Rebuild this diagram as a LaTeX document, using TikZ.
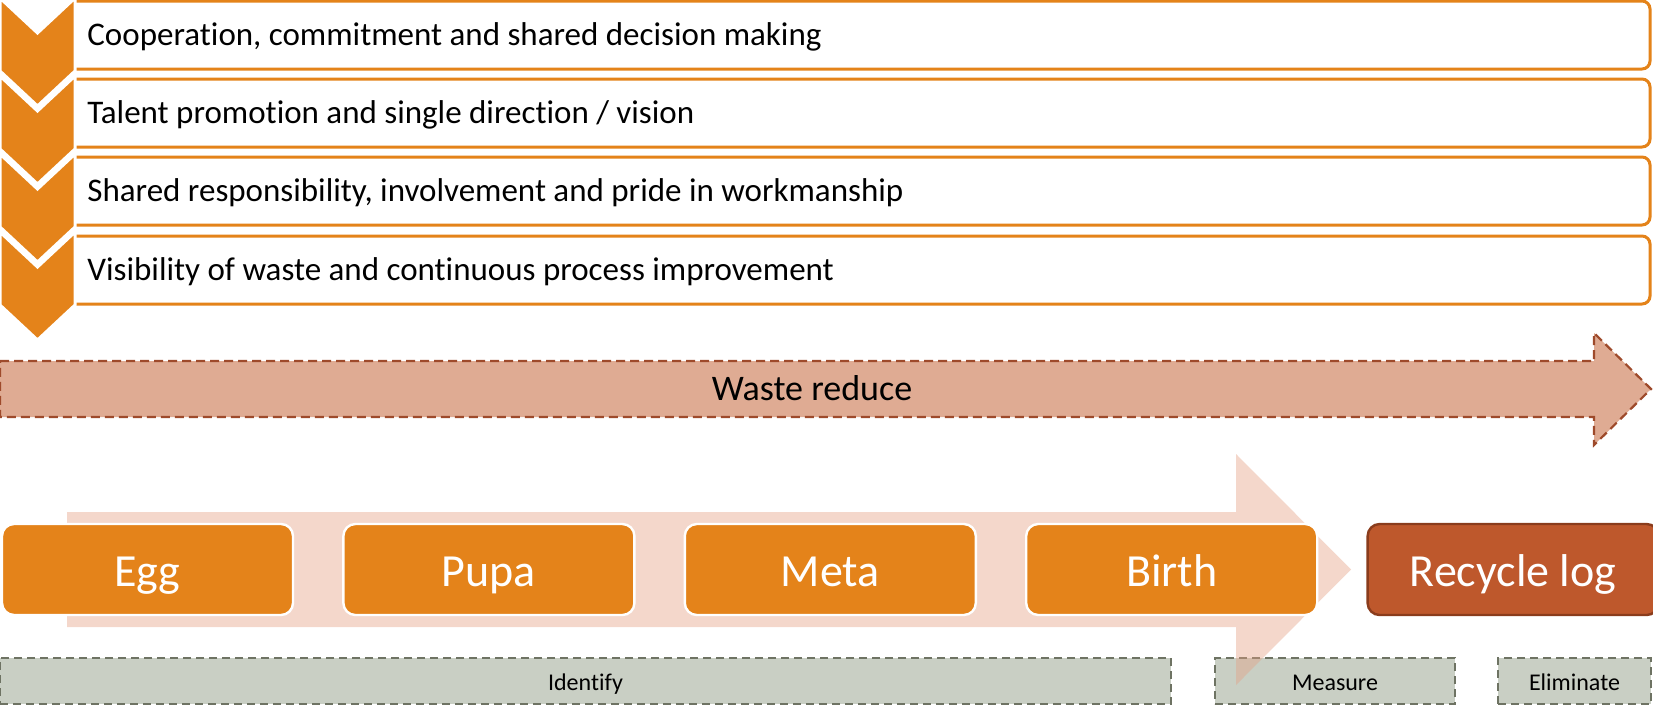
\documentclass[tikz,border=0pt]{standalone}
\usepackage{fontspec}
\setmainfont{Carlito}[RawFeature={-liga,-clig}]
\usetikzlibrary{positioning}

\definecolor{chevOrange}{HTML}{E4831A}
\definecolor{wasteFill}{HTML}{DFAB93}
\definecolor{wasteLine}{HTML}{9E4A2B}
\definecolor{flowTint}{HTML}{E4A084}
\definecolor{recycleFill}{HTML}{BE582C}
\definecolor{recycleLine}{HTML}{8A3C1C}
\definecolor{tagFill}{HTML}{C9CFC4}
\definecolor{tagLine}{HTML}{6E7363}

\begin{document}
\begin{tikzpicture}[x=0.5pt, y=-0.5pt,
    chev/.style={fill=chevOrange, draw=white, line width=1.5pt, line join=miter},
    stepBox/.style={draw=chevOrange, fill=white, line width=1.5pt, rounded corners=4pt},
    stepText/.style={anchor=west, inner sep=0pt, text height=13.2pt, text depth=2.6pt, font=\fontsize{16.5}{19}\selectfont},
    % the two big arrows: dashed outline on top, pale translucent one behind the phases
    wasteArrow/.style={fill=wasteFill, draw=wasteLine, line width=1.1pt, dash pattern=on 4.5pt off 2.5pt},
    flowArrow/.style={fill=flowTint, fill opacity=0.42},
    wasteText/.style={inner sep=0pt, text height=14.6pt, text depth=3pt, font=\fontsize{18}{21}\selectfont},
    phaseBox/.style={rectangle, rounded corners=6pt, fill=chevOrange, draw=white, line width=1.2pt,
      minimum width=145.5pt, minimum height=45.5pt, inner sep=0pt, text=white,
      text height=20.6pt, text depth=4pt, font=\fontsize{23}{26}\selectfont},
    recycleBox/.style={phaseBox, fill=recycleFill, draw=recycleLine},
    stageTag/.style={rectangle, fill=tagFill, draw=tagLine, line width=1.1pt, dash pattern=on 4pt off 2.5pt,
      minimum height=23pt, inner sep=0pt, text height=11.1pt, text depth=1.9pt, font=\fontsize{12}{14}\selectfont}
  ]
    \useasboundingbox (0,0) rectangle (1653,713);

    %--- Principle boxes (open on the left, hidden by the chevrons) ---
    \filldraw[stepBox] (75,1) -- (1650,1) -- (1650,69) -- (75,69);
    \filldraw[stepBox] (75,79) -- (1650,79) -- (1650,147) -- (75,147);
    \filldraw[stepBox] (75,157) -- (1650,157) -- (1650,225) -- (75,225);
    \filldraw[stepBox] (75,236) -- (1650,236) -- (1650,304) -- (75,304);

    %--- Chevrons, one per box ---
    \draw[chev] (0,-2) -- (37.5,33) -- (75,-2) -- (75,71) -- (37.5,106) -- (0,71) -- cycle;
    \draw[chev] (0,76) -- (37.5,111) -- (75,76) -- (75,149) -- (37.5,184) -- (0,149) -- cycle;
    \draw[chev] (0,154) -- (37.5,189) -- (75,154) -- (75,227) -- (37.5,262) -- (0,227) -- cycle;
    \draw[chev] (0,232) -- (37.5,267) -- (75,232) -- (75,305) -- (37.5,340) -- (0,305) -- cycle;

    \node[stepText] (coop) at (87,35) {Cooperation, commitment and shared decision making};
    \node[stepText] (talent) at (87,113) {Talent promotion and single direction / vision};
    \node[stepText] (shared) at (87,191) {Shared responsibility, involvement and pride in workmanship};
    \node[stepText] (visible) at (87,270) {Visibility of waste and continuous process improvement};

    %--- Waste reduce arrow ---
    \draw[wasteArrow] (0,361) -- (1594,361) -- (1594,333) -- (1651,389) -- (1594,445) -- (1594,417) -- (0,417) -- cycle;
    \node[wasteText] (waste) at (812,389) {Waste reduce};

    %--- Stage tags along the bottom ---
    \node[stageTag, minimum width=585.5pt] (identify) at (585.5,681) {Identify};
    \node[stageTag, minimum width=120pt] (measure) at (1335,681) {Measure};
    \node[stageTag, minimum width=76.5pt] (eliminate) at (1574.5,681) {Eliminate};

    %--- Pale flow arrow, then the phases on top of it ---
    \fill[flowArrow] (67,512) -- (1236,512) -- (1236,454) -- (1351,569.5) -- (1236,685) -- (1236,627) -- (67,627) -- cycle;

    \node[phaseBox] (egg) at (147.5,569.5) {Egg};
    \node[phaseBox, right=24pt of egg] (pupa) {Pupa};
    \node[phaseBox, right=24pt of pupa] (meta) {Meta};
    \node[phaseBox, right=24pt of meta] (birth) {Birth};
    \node[recycleBox, right=24pt of birth] (recycle) {Recycle log};
\end{tikzpicture}
\end{document}
